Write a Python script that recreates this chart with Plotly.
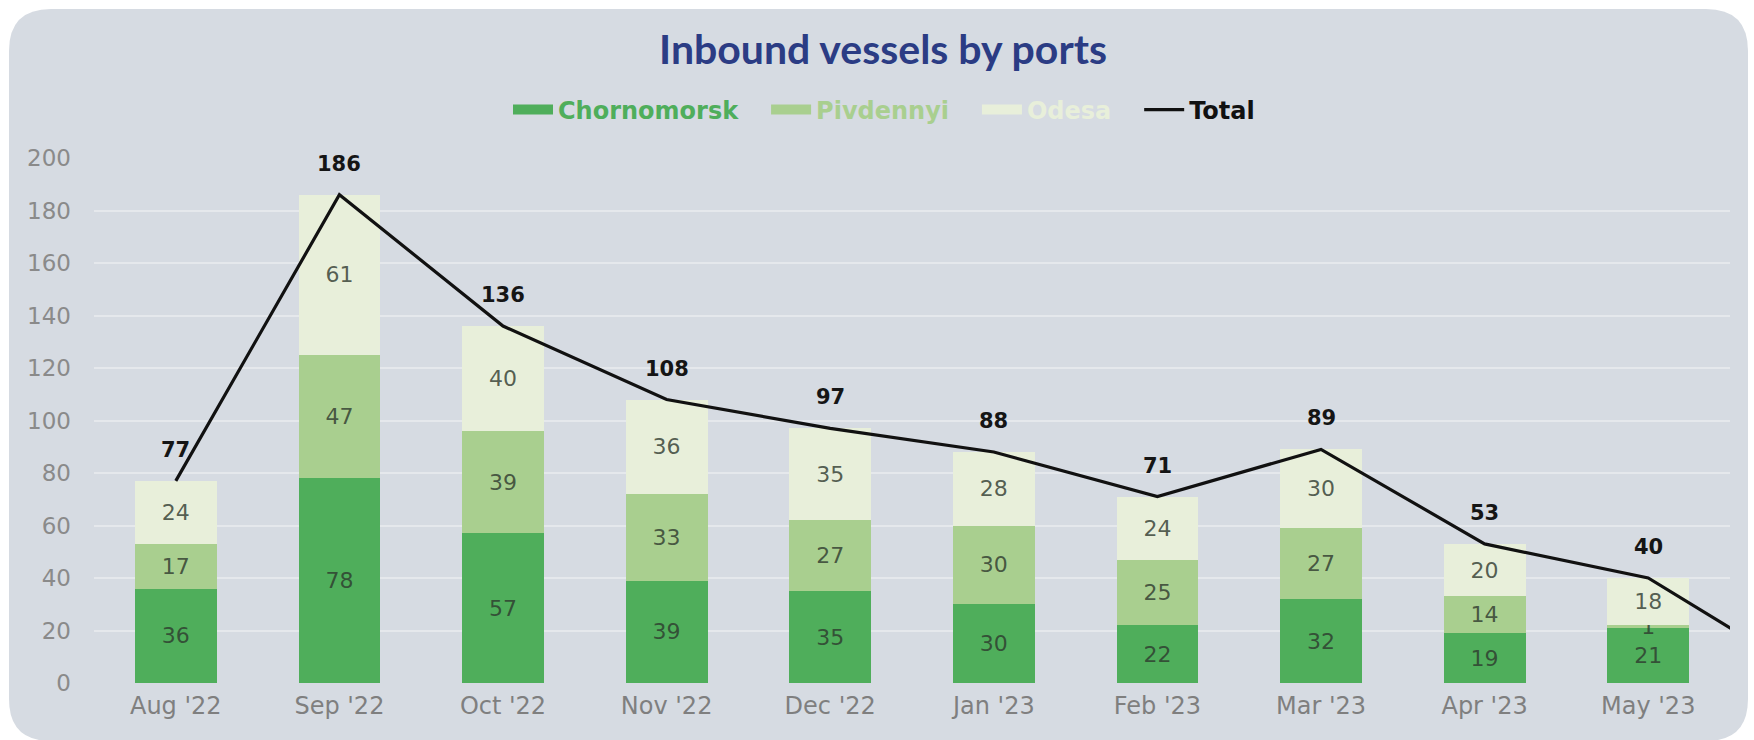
import plotly.graph_objects as go

# Monthly inbound vessel counts per port
months = ["Aug '22", "Sep '22", "Oct '22", "Nov '22", "Dec '22",
          "Jan '23", "Feb '23", "Mar '23", "Apr '23", "May '23"]
chornomorsk = [36, 78, 57, 39, 35, 30, 22, 32, 19, 21]
pivdennyi = [17, 47, 39, 33, 27, 30, 25, 27, 14, 1]
odesa = [24, 61, 40, 36, 35, 28, 24, 30, 20, 18]
total = [77, 186, 136, 108, 97, 88, 71, 89, 53, 40]
# the total line keeps going into the following month, beyond the right edge
total_next = 2

y_ticks = [0, 20, 40, 60, 80, 100, 120, 140, 160, 180, 200]

W, H = 1754, 740
L, R, T, B = 94, 24, 158, 57
PW, PH = W - L - R, H - T - B

C_CH = "#4fae5b"
C_PI = "#a9cf8f"
C_OD = "#e8efda"
BG = "#d6dbe2"
GRID = "#e5e8ec"
LABEL = "rgba(45,55,45,0.80)"
FONT = "DejaVu Sans"
GAP = "\u00a0" * 3

x_pos = list(range(len(months)))

fig = go.Figure()
for name, vals, col in [("Chornomorsk", chornomorsk, C_CH),
                        ("Pivdennyi", pivdennyi, C_PI),
                        ("Odesa", odesa, C_OD)]:
    fig.add_trace(go.Bar(
        x=x_pos, y=vals, width=0.5, name=name, legendgroup=name,
        showlegend=False,
        marker=dict(color=col, line=dict(width=0)),
        text=[str(v) for v in vals],
        textposition="inside", insidetextanchor="middle", textangle=0,
        textfont=dict(family=FONT, size=22, color=LABEL),
        constraintext="none",
    ))
    # wide flat swatch for the legend entry
    fig.add_trace(go.Scatter(
        x=[None], y=[None], mode="lines", legendgroup=name,
        name=f"<span style='color:{col}'><b>{name}</b></span>{GAP}",
        line=dict(color=col, width=11),
    ))

fig.add_trace(go.Scatter(
    x=x_pos + [len(months)], y=total + [total_next],
    mode="lines", name="<b>Total</b>",
    line=dict(color="#111111", width=3.2),
    cliponaxis=True,
))

for xi, v in zip(x_pos, total):
    fig.add_annotation(x=xi, y=v, text=f"<b>{v}</b>", showarrow=False,
                       yshift=31, font=dict(family=FONT, size=21, color="#151515"))


def px_x(p):
    return (p - L) / PW


def px_y(p):
    return (H - B - p) / PH


# rounded panel behind the chart
x0, x1, y0, y1, r = 9, 1748, 9, 741, 42
pts = [
    ("M", (x0 + r, y0)), ("L", (x1 - r, y0)), ("Q", (x1, y0), (x1, y0 + r)),
    ("L", (x1, y1 - r)), ("Q", (x1, y1), (x1 - r, y1)),
    ("L", (x0 + r, y1)), ("Q", (x0, y1), (x0, y1 - r)),
    ("L", (x0, y0 + r)), ("Q", (x0, y0), (x0 + r, y0)),
]
path = ""
for cmd, *coords in pts:
    path += cmd + " " + " ".join(f"{px_x(a):.5f},{px_y(b):.5f}" for a, b in coords) + " "
path += "Z"
fig.add_shape(type="path", path=path, xref="paper", yref="paper",
              fillcolor=BG, line=dict(width=0), layer="below")

fig.update_layout(
    width=W, height=H,
    margin=dict(l=L, r=R, t=T, b=B, pad=0),
    paper_bgcolor="white", plot_bgcolor="rgba(0,0,0,0)",
    barmode="stack", bargap=0.5,
    uniformtext=dict(minsize=22, mode="show"),
    title=dict(text="<b>Inbound vessels by ports</b>", x=883 / W, xref="container",
               xanchor="center", y=1 - 50 / H, yref="container", yanchor="middle",
               font=dict(family="Lato", size=41, color="#2b3c84")),
    legend=dict(orientation="h", x=px_x(884), xanchor="center",
                y=px_y(110), yanchor="middle", itemwidth=40,
                font=dict(family=FONT, size=24, color="#111111"),
                bgcolor="rgba(0,0,0,0)", traceorder="normal"),
    showlegend=True,
    xaxis=dict(range=[-0.5, len(months) - 0.5], tickmode="array",
               tickvals=x_pos, ticktext=months, showgrid=False,
               zeroline=False, showline=False, ticks="", ticklabelstandoff=6,
               tickfont=dict(family=FONT, size=24, color="#7f7f7f")),
    yaxis=dict(range=[0, 200], tickmode="array", tickvals=y_ticks,
               showgrid=True, gridcolor=GRID, gridwidth=2,
               zeroline=False, showline=False, ticks="", ticklabelstandoff=22,
               tickfont=dict(family=FONT, size=23, color="#8a8a8a")),
)

fig.write_html("out.html")
